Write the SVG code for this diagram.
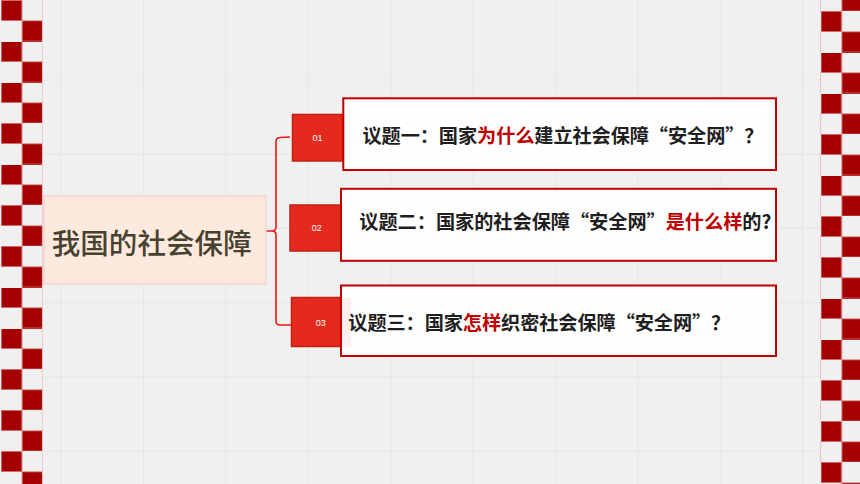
<svg xmlns="http://www.w3.org/2000/svg" width="860" height="484" viewBox="0 0 860 484">
  <defs>
    <style>
      .grid { stroke: #e4e6e6; stroke-width: 1; fill: none; }
      .sq { fill: #a50000; stroke: #d36a6a; stroke-width: 0.8; }
      .tag { fill: #e32a1d; stroke: #c41f17; stroke-width: 1.5; }
      .card { fill: #fefefe; stroke: #c00000; stroke-width: 2; }
      .num { font-family: "Liberation Sans", Arial, sans-serif; font-size: 9px; fill: #ffffff; text-anchor: middle; }
      .q { font-family: "Noto Sans CJK SC", "Noto Sans", sans-serif; font-size: 19.2px; font-weight: 700; fill: #1f1f1f; }
      .hl { fill: #c00000; }
      .conn { fill: none; stroke: #f01414; stroke-width: 1.6; stroke-linejoin: round; }
    </style>
    <pattern id="chkL" patternUnits="userSpaceOnUse" x="1" y="0" width="41.5" height="41">
      <rect class="sq" x="0.4" y="0.4" width="20.4" height="20.1"/>
      <rect class="sq" x="21.2" y="20.9" width="20.4" height="20.1"/>
    </pattern>
    <pattern id="chkR" patternUnits="userSpaceOnUse" x="820.7" y="11" width="41.5" height="41">
      <rect class="sq" x="0.4" y="0.4" width="20.4" height="20.1"/>
      <rect class="sq" x="21.2" y="20.9" width="20.4" height="20.1"/>
    </pattern>
  </defs>

  <!-- background -->
  <rect x="0" y="0" width="860" height="484" fill="#f0f0f0"/>
  <g id="grid" class="grid">
    <path d="M61,0V484 M143.4,0V484 M225.8,0V484 M308.2,0V484 M390.6,0V484 M473,0V484 M555.4,0V484 M637.8,0V484 M720.2,0V484 M802.6,0V484"/>
    <path d="M42,80H821 M42,154.2H821 M42,228.4H821 M42,302.6H821 M42,376.8H821 M42,451H821"/>
  </g>

  <!-- checkerboard borders -->
  <rect x="1" y="0" width="41.5" height="484" fill="url(#chkL)"/>
  <rect x="820.7" y="0" width="39.3" height="484" fill="url(#chkR)"/>

  <!-- connectors -->
  <g id="connectors">
    <path class="conn" d="M290,137 L280,137.5 Q276,137.5 276,141.5 L276,227 Q276,231 272,231 L262,231 M272,231 Q276,231 276,235 L276,321 Q276,325 280,325 L292,325"/>
  </g>

  <!-- root node -->
  <g id="root">
    <rect x="44" y="196" width="222" height="88" fill="#fde9dd" stroke="#f3d5ce" stroke-width="1.5"/>
    <text x="51.7" y="254" font-family="Noto Sans CJK SC, sans-serif" font-size="28.5" font-weight="500" fill="#464230" textLength="200" lengthAdjust="spacing">我国的社会保障</text>
  </g>

  <!-- topic 1 -->
  <g id="topic1">
    <rect class="tag" x="292.5" y="114.5" width="51" height="46.5"/>
    <rect class="card" x="343.3" y="98.3" width="432.7" height="71.7"/>
    <text class="num" x="317.5" y="141">01</text>
    <text class="q" x="362.5" y="142.5" textLength="401" lengthAdjust="spacing">议题一：国家<tspan class="hl">为什么</tspan>建立社会保障“安全网”？</text>
  </g>

  <!-- topic 2 -->
  <g id="topic2">
    <rect class="tag" x="290" y="205" width="51" height="46"/>
    <rect class="card" x="341" y="188.8" width="435" height="72"/>
    <text class="num" x="316.7" y="231">02</text>
    <text class="q" x="359.3" y="229" textLength="412" lengthAdjust="spacing">议题二：国家的社会保障“安全网”<tspan class="hl">是什么样</tspan>的?</text>
  </g>

  <!-- topic 3 -->
  <g id="topic3">
    <rect class="tag" x="291.5" y="297.5" width="50" height="49"/>
    <rect class="card" x="341" y="285.5" width="435" height="70.5"/>
    <rect x="342" y="297.7" width="9" height="49" fill="#f8c9c4" opacity="0.3"/>
    <text class="num" x="320.7" y="325.5">03</text>
    <text class="q" x="348.3" y="329.5" textLength="382" lengthAdjust="spacing">议题三：国家<tspan class="hl">怎样</tspan>织密社会保障“安全网”？</text>
  </g>
</svg>
